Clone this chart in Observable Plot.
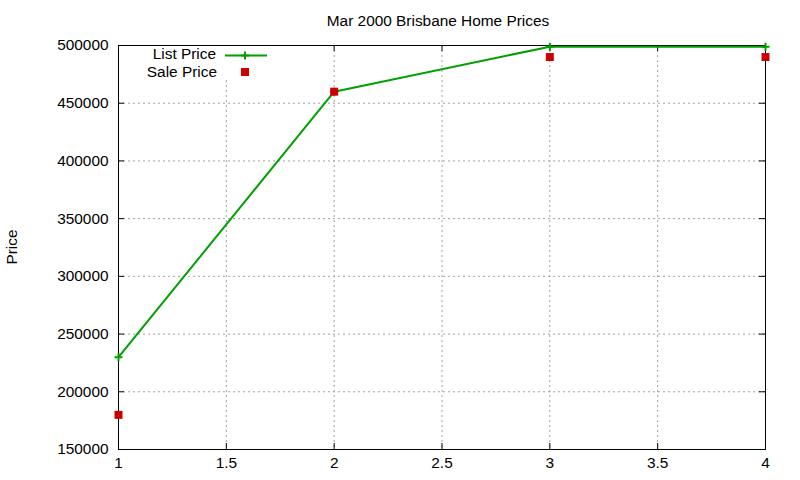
<!DOCTYPE html>
<html><head><meta charset="utf-8">
<script src="https://cdn.jsdelivr.net/npm/d3@7"></script>
<script src="https://cdn.jsdelivr.net/npm/@observablehq/plot@0.6"></script>
<style>body{margin:0;background:#fff}</style>
</head><body><div id="chart"></div>
<script>
const xs = [1, 2, 3, 4];
const listPrice = [230000, 460000, 499000, 499000];
const salePrice = [180000, 460000, 490000, 490000];
const xTicks = [1, 1.5, 2, 2.5, 3, 3.5, 4];
const yTicks = [150000, 200000, 250000, 300000, 350000, 400000, 450000, 500000];
const title = "Mar 2000 Brisbane Home Prices";
const yLabel = "Price";
const seriesNames = ["List Price", "Sale Price"];

const listData = xs.map((x, i) => ({x, y: listPrice[i]}));
const saleData = xs.map((x, i) => ({x, y: salePrice[i]}));

const W = 800, H = 480, mL = 118, mR = 35, mT = 45, mB = 31;
const innerW = W - mL - mR, innerH = H - mT - mB;
const green = "#00a000", red = "#cc0000";
const font = "'Liberation Sans', Arial, sans-serif";
const fs = 15.4;
const gridXT = xTicks.slice(1, -1), gridYT = yTicks.slice(1, -1);

const plot = Plot.plot({
  width: W, height: H,
  marginLeft: mL, marginRight: mR, marginTop: mT, marginBottom: mB,
  style: {fontFamily: font, fontSize: fs + "px", color: "#000", background: "#fff", overflow: "visible"},
  x: {domain: [1, 4]},
  y: {domain: [150000, 500000]},
  marks: [
    Plot.gridX(gridXT, {stroke: "#a0a0a0", strokeOpacity: 1, strokeDasharray: "2,3", strokeWidth: 1}),
    Plot.gridY(gridYT, {stroke: "#a0a0a0", strokeOpacity: 1, strokeDasharray: "2,3", strokeWidth: 1}),
    Plot.tickX(xTicks, {x: d => d, insetTop: innerH - 6, stroke: "#000"}),
    Plot.tickX(xTicks, {x: d => d, insetBottom: innerH - 6, stroke: "#000"}),
    Plot.tickY(yTicks, {y: d => d, insetRight: innerW - 6, stroke: "#000"}),
    Plot.tickY(yTicks, {y: d => d, insetLeft: innerW - 6, stroke: "#000"}),
    Plot.frame({stroke: "#000", strokeWidth: 1}),
    Plot.axisX({ticks: xTicks, tickSize: 0, tickPadding: 8, tickFormat: d => String(d), label: null, fontSize: fs}),
    Plot.axisY({ticks: yTicks, tickSize: 0, tickPadding: 10, tickFormat: d => String(d), label: null, fontSize: fs}),
    Plot.line(listData, {x: "x", y: "y", stroke: green, strokeWidth: 2}),
    Plot.dot(listData, {x: "x", y: "y", symbol: "plus", r: 2.7, stroke: green, strokeWidth: 2}),
    Plot.dot(saleData, {x: "x", y: "y", symbol: "square", r: 4.5, fill: red, stroke: "none"})
  ]
});

const svg = d3.select(plot);
svg.append("text").attr("x", 438).attr("y", 26).attr("text-anchor", "middle")
  .attr("font-family", font).attr("font-size", fs).attr("fill", "#000").text(title);
svg.append("text").attr("transform", "translate(17,247) rotate(-90)").attr("text-anchor", "middle")
  .attr("font-family", font).attr("font-size", fs).attr("fill", "#000").text(yLabel);

const lg = svg.append("g");
lg.append("rect").attr("x", 119).attr("y", 46).attr("width", 160).attr("height", 34).attr("fill", "#fff");
lg.append("text").attr("x", 216).attr("y", 59).attr("text-anchor", "end")
  .attr("font-family", font).attr("font-size", fs).attr("fill", "#000").text(seriesNames[0]);
lg.append("text").attr("x", 217).attr("y", 76.8).attr("text-anchor", "end")
  .attr("font-family", font).attr("font-size", fs).attr("fill", "#000").text(seriesNames[1]);
lg.append("line").attr("x1", 225).attr("x2", 267).attr("y1", 55.5).attr("y2", 55.5)
  .attr("stroke", green).attr("stroke-width", 2);
lg.append("path").attr("d", d3.symbol(d3.symbolPlus, 2.7 * 2.7 * Math.PI)()).attr("transform", "translate(245,55.5)")
  .attr("stroke", green).attr("stroke-width", 2).attr("fill", "none");
lg.append("rect").attr("x", 241).attr("y", 68).attr("width", 8).attr("height", 8).attr("fill", red);

document.getElementById("chart").appendChild(plot);
</script></body></html>
